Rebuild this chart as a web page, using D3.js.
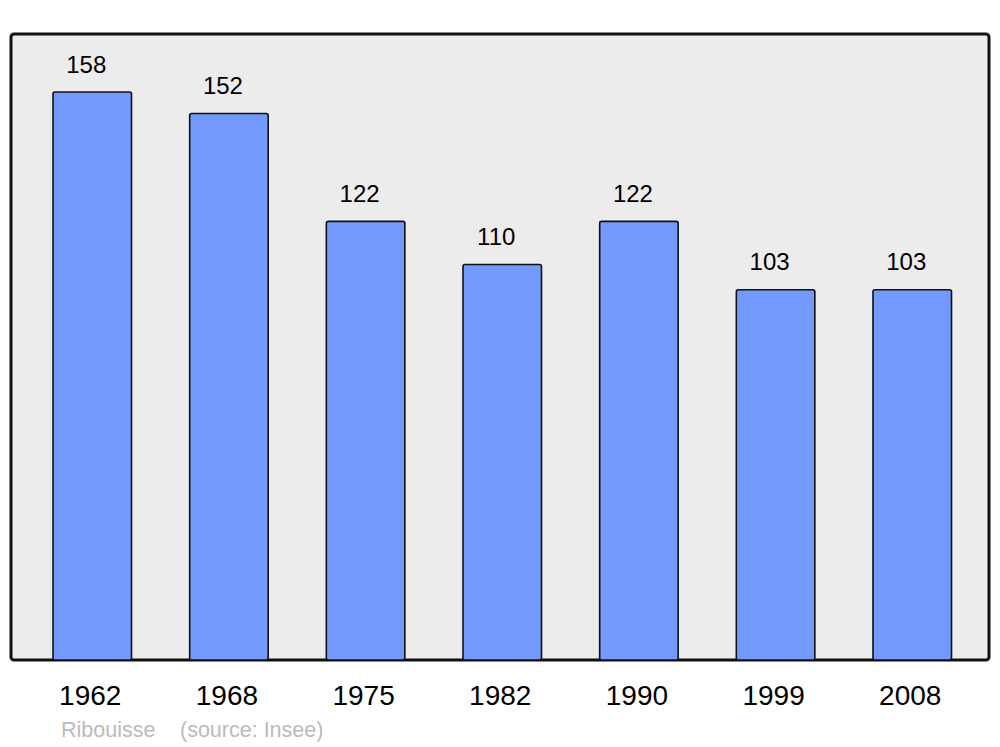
<!DOCTYPE html>
<html><head><meta charset="utf-8">
<script src="https://cdn.jsdelivr.net/npm/d3@7"></script>
<style>body{margin:0;background:#fff}svg{display:block}</style>
</head><body>
<script>
const years = ["1962","1968","1975","1982","1990","1999","2008"];
const population = [158,152,122,110,122,103,103];
const commune = "Ribouisse";
const source = "(source: Insee)";

const W = 1000, H = 747;
const svg = d3.select("body").append("svg").attr("width", W).attr("height", H);
const font = "Liberation Sans, Arial, sans-serif";

const panel = {x0: 11, x1: 989, y0: 34, y1: 660};
svg.append("rect").attr("x", panel.x0).attr("y", panel.y0)
  .attr("width", panel.x1 - panel.x0).attr("height", panel.y1 - panel.y0)
  .attr("rx", 3).attr("fill", "#ececec").attr("stroke", "#111").attr("stroke-width", 3);

const x = d3.scaleBand().domain(years).range([53, 951.5]).paddingInner(0.4256).paddingOuter(0);
const y = d3.scaleLinear().domain([0, 158]).range([panel.y1, 92]);

svg.selectAll("rect.bar").data(years).enter().append("rect").attr("class", "bar")
  .attr("x", d => x(d)).attr("y", (d, i) => y(population[i]))
  .attr("width", x.bandwidth()).attr("height", (d, i) => y(0) - y(population[i]))
  .attr("rx", 2).attr("fill", "#7399ff").attr("stroke", "#111").attr("stroke-width", 1.6);

svg.selectAll("text.val").data(years).enter().append("text").attr("class", "val")
  .attr("x", d => x(d) + x.bandwidth() / 2 - 6).attr("y", (d, i) => y(population[i]) - 19.5)
  .attr("text-anchor", "middle").attr("font-family", font).attr("font-size", 24)
  .attr("fill", "#000").text((d, i) => population[i]);

const axis = d3.axisBottom(x).tickSize(0).tickPadding(0);
const g = svg.append("g").attr("transform", `translate(-2,${panel.y1})`).call(axis);
g.select(".domain").remove();
g.selectAll("text").attr("font-family", font).attr("font-size", 28).attr("fill", "#000")
  .attr("dy", null).attr("y", 45);

svg.append("text").attr("x", 61).attr("y", 737).attr("font-family", font).attr("font-size", 21.5)
  .attr("fill", "#bbbbbb").text(commune);
svg.append("text").attr("x", 180).attr("y", 737).attr("font-family", font).attr("font-size", 21.5)
  .attr("fill", "#bbbbbb").text(source);
</script>
</body></html>
